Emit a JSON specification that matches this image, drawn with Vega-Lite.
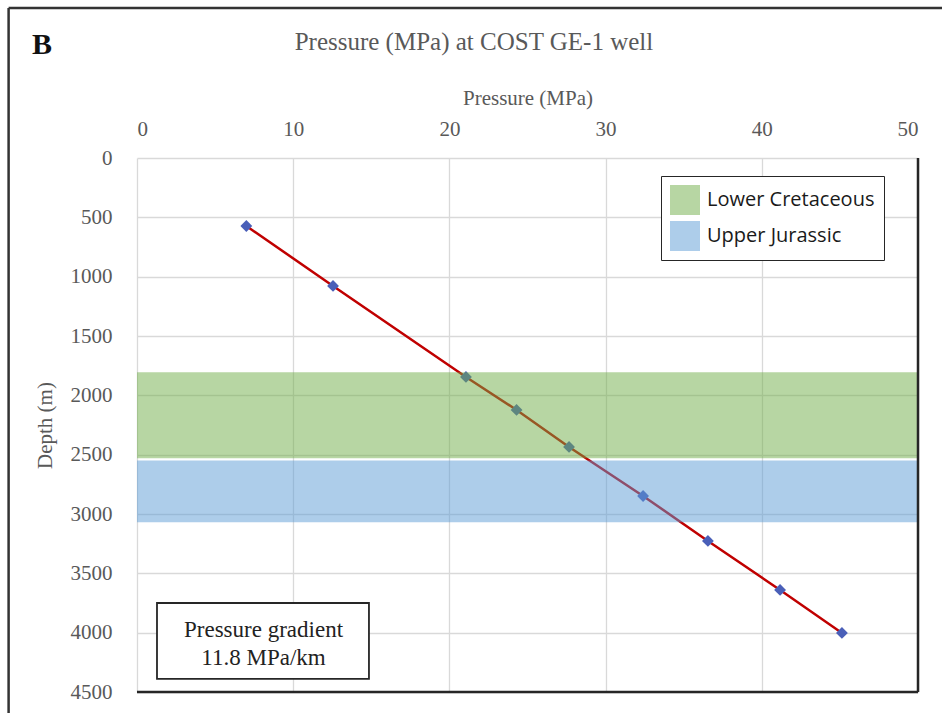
{
  "$schema": "https://vega.github.io/schema/vega-lite/v6.json",
  "autosize": {"type": "none"},
  "padding": {"left": 137, "top": 158, "right": 24, "bottom": 21},
  "width": 781,
  "height": 534,
  "background": "white",
  "config": {
    "view": {"stroke": null},
    "font": "Liberation Serif",
    "axis": {
      "domain": false,
      "ticks": false,
      "grid": true,
      "gridColor": "#d9d9d9",
      "gridWidth": 1.3,
      "labelFont": "Liberation Serif",
      "labelFontSize": 21,
      "labelColor": "#595959",
      "titleFont": "Liberation Serif",
      "titleFontSize": 21,
      "titleFontWeight": "normal",
      "titleColor": "#595959"
    }
  },
  "datasets": {
    "points": [
      {"pressure": 7.0, "depth": 573},
      {"pressure": 12.55, "depth": 1078},
      {"pressure": 21.06, "depth": 1845},
      {"pressure": 24.3, "depth": 2123},
      {"pressure": 27.66, "depth": 2435},
      {"pressure": 32.4, "depth": 2848},
      {"pressure": 36.55, "depth": 3227},
      {"pressure": 41.17, "depth": 3640},
      {"pressure": 45.13, "depth": 4002}
    ],
    "bands": [
      {"formation": "Lower Cretaceous", "top": 1805, "bottom": 2530},
      {"formation": "Upper Jurassic", "top": 2550, "bottom": 3070}
    ],
    "one": [{}]
  },
  "layer": [
    {
      "data": {"name": "points"},
      "mark": {"type": "line", "color": "#c00000", "strokeWidth": 2.5},
      "encoding": {
        "x": {
          "field": "pressure",
          "type": "quantitative",
          "scale": {"domain": [0, 50]},
          "axis": {
            "orient": "top",
            "title": "Pressure (MPa)",
            "values": [0, 10, 20, 30, 40, 50],
            "format": "d",
            "labelPadding": 19,
            "titlePadding": 10
          }
        },
        "y": {
          "field": "depth",
          "type": "quantitative",
          "scale": {"domain": [0, 4500], "reverse": true, "nice": false},
          "axis": {
            "title": "Depth (m)",
            "values": [0, 500, 1000, 1500, 2000, 2500, 3000, 3500, 4000, 4500],
            "format": "d",
            "labelPadding": 25,
            "titlePadding": 15
          }
        }
      }
    },
    {
      "data": {"name": "points"},
      "mark": {"type": "point", "shape": "diamond", "filled": true, "color": "#4a5fb8", "size": 140, "opacity": 1},
      "encoding": {
        "x": {"field": "pressure", "type": "quantitative"},
        "y": {"field": "depth", "type": "quantitative"}
      }
    },
    {
      "data": {"name": "bands"},
      "mark": {"type": "rect", "opacity": 0.5},
      "encoding": {
        "x": {"datum": 0, "type": "quantitative"},
        "x2": {"datum": 50},
        "y": {"field": "top", "type": "quantitative"},
        "y2": {"field": "bottom"},
        "fill": {
          "field": "formation",
          "type": "nominal",
          "scale": {"domain": ["Lower Cretaceous", "Upper Jurassic"], "range": ["#70ad47", "#5b9bd5"]},
          "legend": {
            "title": null,
            "orient": "none",
            "legendX": 524,
            "legendY": 18,
            "direction": "vertical",
            "symbolType": "square",
            "symbolSize": 900,
            "symbolOpacity": 0.5,
            "symbolStrokeWidth": 0,
            "labelFont": "Open Sans",
            "labelFontSize": 20,
            "labelColor": "#1a1a1a",
            "labelOffset": 7,
            "labelExpr": "datum.label + '\u00a0\u00a0\u00a0'",
            "rowPadding": 6,
            "padding": 9,
            "strokeColor": "#262626",
            "fillColor": "white",
            "labelLimit": 400
          }
        }
      }
    },
    {
      "data": {"name": "one"},
      "mark": {"type": "rule", "color": "#262626", "strokeWidth": 2.5},
      "encoding": {
        "x": {"datum": 0, "type": "quantitative"},
        "x2": {"datum": 50},
        "y": {"datum": 4500, "type": "quantitative"}
      }
    },
    {
      "data": {"name": "one"},
      "mark": {"type": "rule", "color": "#262626", "strokeWidth": 2.5},
      "encoding": {
        "x": {"datum": 50, "type": "quantitative"},
        "y": {"datum": 0, "type": "quantitative"},
        "y2": {"datum": 4500}
      }
    },
    {
      "data": {"name": "one"},
      "mark": {"type": "rule", "color": "#333333", "strokeWidth": 2.5, "clip": false},
      "encoding": {
        "x": {"datum": -8.22, "type": "quantitative"},
        "x2": {"datum": 51.6},
        "y": {"datum": -1264, "type": "quantitative"}
      }
    },
    {
      "data": {"name": "one"},
      "mark": {"type": "rule", "color": "#333333", "strokeWidth": 2.5, "clip": false},
      "encoding": {
        "x": {"datum": -8.22, "type": "quantitative"},
        "y": {"datum": -1264, "type": "quantitative"},
        "y2": {"datum": 4700}
      }
    },
    {
      "data": {"name": "one"},
      "mark": {"type": "rect", "fill": "white", "stroke": "#262626", "strokeWidth": 1.8},
      "encoding": {
        "x": {"datum": 1.28, "type": "quantitative"},
        "x2": {"datum": 14.85},
        "y": {"datum": 3750, "type": "quantitative"},
        "y2": {"datum": 4390}
      }
    },
    {
      "data": {"name": "one"},
      "mark": {"type": "text", "font": "Liberation Serif", "fontSize": 23, "color": "#222222", "align": "center", "baseline": "middle", "lineHeight": 28, "text": ["Pressure gradient", "11.8 MPa/km"]},
      "encoding": {
        "x": {"datum": 8.1, "type": "quantitative"},
        "y": {"datum": 3980, "type": "quantitative"}
      }
    },
    {
      "data": {"name": "one"},
      "mark": {"type": "text", "font": "Liberation Serif", "fontSize": 25, "color": "#595959", "align": "center", "baseline": "alphabetic", "text": "Pressure (MPa) at COST GE-1 well", "clip": false},
      "encoding": {
        "x": {"datum": 21.57, "type": "quantitative"},
        "y": {"datum": -910, "type": "quantitative"}
      }
    },
    {
      "data": {"name": "one"},
      "mark": {"type": "text", "font": "Liberation Serif", "fontSize": 30, "fontWeight": "bold", "color": "#111111", "align": "center", "baseline": "alphabetic", "text": "B", "clip": false},
      "encoding": {
        "x": {"datum": -6.08, "type": "quantitative"},
        "y": {"datum": -876, "type": "quantitative"}
      }
    }
  ]
}
